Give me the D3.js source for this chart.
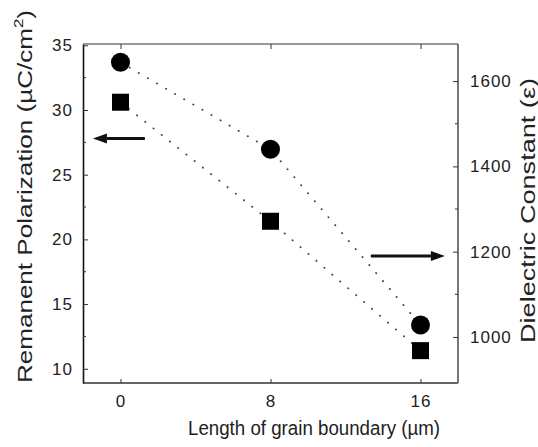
<!DOCTYPE html>
<html>
<head>
<meta charset="utf-8">
<script src="https://cdn.jsdelivr.net/npm/d3@7"></script>
<style>
    body { margin: 0; background: #fff; }
    svg { display: block; font-family: "Liberation Sans", Arial, sans-serif; }
</style>
</head>
<body>
<svg width="538" height="447"></svg>
<script>
// Set data
const grainLength = [0, 8, 16];
const polarization = [30.6, 21.4, 11.4];      // squares, left axis
const dielectric = [1644, 1440, 1028];        // circles, right axis
const xTicks = [0, 8, 16];
const leftTicks = [10, 15, 20, 25, 30, 35];
const leftMinor = [12.5, 17.5, 22.5, 27.5, 32.5];
const rightTicks = [1000, 1200, 1400, 1600];
const rightMinor = [1100, 1300, 1500];
// arrows in data units: [x1, x2, y]
const leftArrow = [1.3, -1.47, 27.8];
const rightArrow = [13.35, 17.3, 1190];

// Set width and height
const width = 538, height = 447;
const plot = {left: 83, right: 458, top: 44, bottom: 383};

const svg = d3.select("svg");

const x = d3.scaleLinear().domain([-2, 18]).range([plot.left, plot.right]);
const yL = d3.scaleLinear().domain([8.9, 35.1]).range([plot.bottom, plot.top]);
const yR = d3.scaleLinear().domain([892, 1687]).range([plot.bottom, plot.top]);

// frame
svg.append("line").attr("x1", plot.left).attr("x2", plot.right)
    .attr("y1", plot.top).attr("y2", plot.top)
    .attr("stroke", "#999").attr("stroke-width", 2);
svg.append("line").attr("x1", plot.left).attr("x2", plot.right)
    .attr("y1", plot.bottom).attr("y2", plot.bottom)
    .attr("stroke", "#333").attr("stroke-width", 1.6);
svg.append("line").attr("x1", plot.right).attr("x2", plot.right)
    .attr("y1", plot.top).attr("y2", plot.bottom)
    .attr("stroke", "#555").attr("stroke-width", 1.6);

// axes, ticks pointing inward
const tickFont = g => g.selectAll("text")
    .attr("font-size", 17).attr("letter-spacing", "1px")
    .attr("fill", "#222").attr("font-family", "Liberation Sans, Arial, sans-serif");

const leftAxis = svg.append("g")
    .attr("transform", `translate(${plot.left},0)`)
    .call(d3.axisLeft(yL).tickValues(leftTicks).tickSizeInner(-5).tickSizeOuter(0).tickPadding(10));
leftAxis.select(".domain").attr("stroke", "#111").attr("stroke-width", 1.6);
leftAxis.call(tickFont);

const rightAxis = svg.append("g")
    .attr("transform", `translate(${plot.right},0)`)
    .call(d3.axisRight(yR).tickValues(rightTicks).tickFormat(d3.format("d"))
        .tickSizeInner(-5).tickSizeOuter(0).tickPadding(12));
rightAxis.select(".domain").remove();
rightAxis.call(tickFont);

const bottomAxis = svg.append("g")
    .attr("transform", `translate(0,${plot.bottom})`)
    .call(d3.axisBottom(x).tickValues(xTicks).tickSizeInner(-4).tickSizeOuter(0).tickPadding(12));
bottomAxis.select(".domain").remove();
bottomAxis.call(tickFont);

const topAxis = svg.append("g")
    .attr("transform", `translate(0,${plot.top})`)
    .call(d3.axisTop(x).tickValues(xTicks).tickSizeInner(-5).tickSizeOuter(0).tickFormat(""));
topAxis.select(".domain").remove();

// minor ticks
svg.append("g").selectAll("line").data(leftMinor).join("line")
    .attr("x1", plot.left).attr("x2", plot.left + 3)
    .attr("y1", d => yL(d)).attr("y2", d => yL(d))
    .attr("stroke", "#333");
svg.append("g").selectAll("line").data(rightMinor).join("line")
    .attr("x1", plot.right).attr("x2", plot.right - 3)
    .attr("y1", d => yR(d)).attr("y2", d => yR(d))
    .attr("stroke", "#333");
svg.selectAll(".tick line").attr("stroke", "#333");

// dotted connecting lines
const dotted = {stroke: "#444", width: 1.8, dash: "0.3 10.2"};
const lineL = d3.line().x((d, i) => x(grainLength[i])).y(d => yL(d));
const lineR = d3.line().x((d, i) => x(grainLength[i])).y(d => yR(d));
svg.append("path").attr("d", lineL(polarization))
    .attr("fill", "none").attr("stroke", dotted.stroke).attr("stroke-width", dotted.width)
    .attr("stroke-linecap", "round").attr("stroke-dasharray", dotted.dash);
svg.append("path").attr("d", lineR(dielectric))
    .attr("fill", "none").attr("stroke", dotted.stroke).attr("stroke-width", dotted.width)
    .attr("stroke-linecap", "round").attr("stroke-dasharray", dotted.dash);

// markers
const sq = 17;
svg.append("g").selectAll("rect").data(polarization).join("rect")
    .attr("x", (d, i) => x(grainLength[i]) - sq / 2)
    .attr("y", d => yL(d) - sq / 2)
    .attr("width", sq).attr("height", sq)
    .attr("fill", "#000");
svg.append("g").selectAll("circle").data(dielectric).join("circle")
    .attr("cx", (d, i) => x(grainLength[i]))
    .attr("cy", d => yR(d))
    .attr("r", 9.5)
    .attr("fill", "#000");

// arrows
const drawArrow = function(x1, x2, y){
    const dir = Math.sign(x2 - x1);
    const headLen = 14, headHalf = 5;
    svg.append("line")
        .attr("x1", x1).attr("x2", x2 - dir * headLen)
        .attr("y1", y).attr("y2", y)
        .attr("stroke", "#111").attr("stroke-width", 3);
    svg.append("path")
        .attr("d", `M${x2},${y} L${x2 - dir * headLen},${y - headHalf} L${x2 - dir * headLen},${y + headHalf} Z`)
        .attr("fill", "#111");
}
drawArrow(x(leftArrow[0]), x(leftArrow[1]), yL(leftArrow[2]));
drawArrow(x(rightArrow[0]), x(rightArrow[1]), yR(rightArrow[2]));

// axis titles
svg.append("text")
    .attr("x", 188).attr("y", 435)
    .attr("font-size", 20).attr("fill", "#222")
    .attr("textLength", 252).attr("lengthAdjust", "spacingAndGlyphs")
    .text("Length of grain boundary (\u00b5m)");

const leftTitle = svg.append("text")
    .attr("transform", "translate(32,383) rotate(-90)")
    .attr("font-size", 20).attr("fill", "#222")
    .attr("textLength", 373).attr("lengthAdjust", "spacingAndGlyphs");
leftTitle.append("tspan").text("Remanent Polarization (\u00b5C/cm");
leftTitle.append("tspan").attr("dy", -9).attr("font-size", 13).text("2");
leftTitle.append("tspan").attr("dy", 9).text(")");

svg.append("text")
    .attr("transform", "translate(535,343) rotate(-90)")
    .attr("font-size", 20).attr("fill", "#222")
    .attr("textLength", 265).attr("lengthAdjust", "spacingAndGlyphs")
    .text("Dielectric Constant (\u03b5)");
</script>
</body>
</html>
